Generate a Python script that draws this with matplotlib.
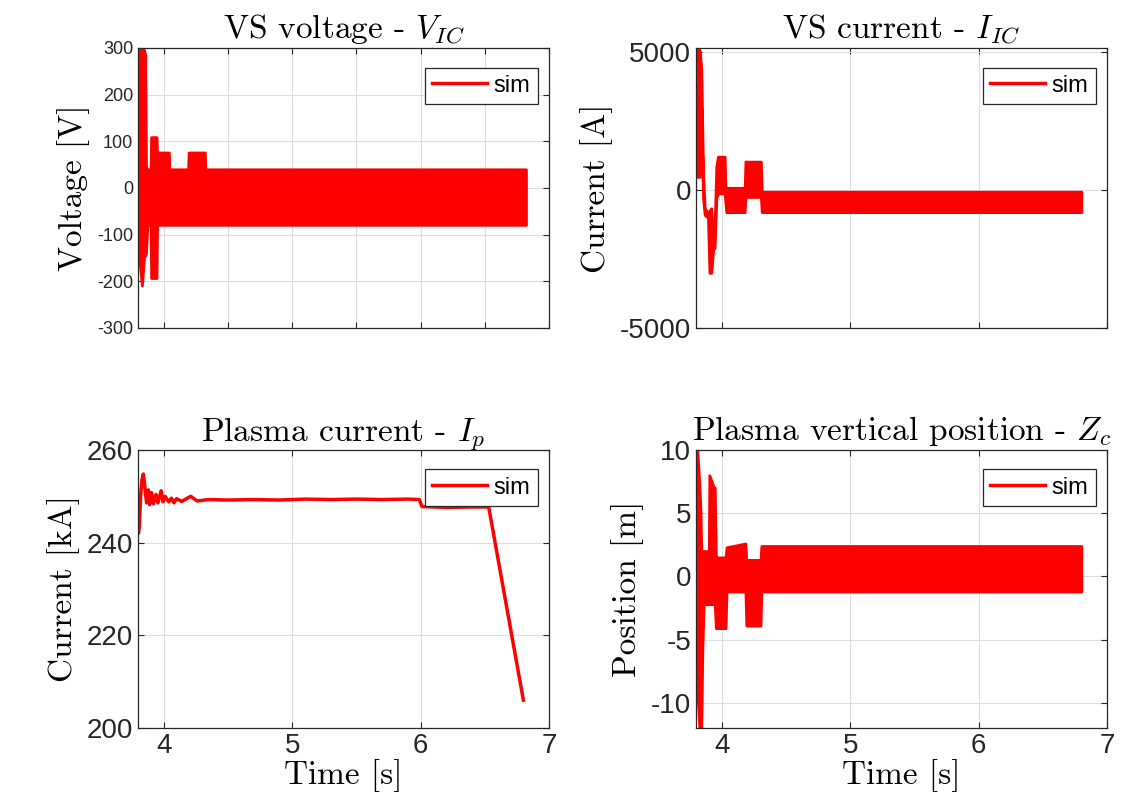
import matplotlib
matplotlib.use('Agg')
import matplotlib.pyplot as plt
from matplotlib.lines import Line2D

plt.rcParams['mathtext.fontset'] = 'cm'
plt.rcParams['axes.unicode_minus'] = False
plt.rcParams['font.family'] = ['Liberation Sans', 'DejaVu Sans']

# VS voltage envelope (band of the fast oscillation)
t_v = [3.800, 3.806, 3.830, 3.848, 3.856, 3.862, 3.872, 3.898, 3.902, 3.944,
       3.948, 4.040, 4.044, 4.190, 4.194, 4.320, 4.324, 6.820]
v_hi = [0, 300, 300, 295, 285, 45, 40, 40, 109, 109, 76, 76, 40, 40, 76, 76, 40, 40]
v_lo = [0, -140, -209, -145, -145, -140, -80, -80, -193, -193, -79, -79, -79,
        -79, -79, -79, -79, -79]

# VS current envelope
t_i = [3.800, 3.803, 3.808, 3.829, 3.841, 3.855, 3.868, 3.893, 3.905, 3.919,
       3.935, 3.945, 3.958, 3.971, 4.023, 4.030, 4.036, 4.179, 4.185, 4.192,
       4.305, 4.312, 6.800]
i_hi = [1930, 1930, 5130, 5070, 4400, 600, -660, -840, -750, -660, -1800, -1400,
        850, 1210, 1210, -100, 80, 80, 1030, 1030, 1030, -60, -60]
i_lo = [900, 900, 480, 480, 3000, -300, -900, -1000, -3000, -3000, -2100, -2100,
        -300, -120, -120, -500, -800, -800, -250, -250, -250, -800, -800]

# plasma current
t_ip = [3.800, 3.803, 3.810, 3.820, 3.830, 3.841, 3.850, 3.857, 3.867, 3.880,
        3.890, 3.905, 3.920, 3.940, 3.955, 3.980, 3.995, 4.010, 4.040, 4.060,
        4.080, 4.100, 4.140, 4.210, 4.260, 4.350, 4.500, 4.700, 4.900, 5.100,
        5.300, 5.500, 5.700, 5.900, 5.990, 6.010, 6.200, 6.400, 6.530, 6.800]
ip = [248.2, 242.0, 243.5, 250.0, 253.5, 254.8, 253.0, 250.8, 248.6, 251.4,
      248.2, 250.8, 248.4, 250.4, 248.6, 251.2, 248.8, 250.0, 248.8, 249.6,
      248.6, 249.5, 248.9, 250.0, 249.0, 249.3, 249.2, 249.3, 249.2, 249.4,
      249.3, 249.4, 249.3, 249.4, 249.3, 247.8, 247.6, 247.7, 247.7, 206.0]

# plasma vertical position envelope
t_z = [3.800, 3.806, 3.810, 3.826, 3.835, 3.841, 3.850, 3.860, 3.900, 3.904,
       3.940, 3.946, 3.955, 3.960, 4.030, 4.038, 4.185, 4.192, 4.302, 4.309, 6.800]
z_hi = [0.2, 10.1, 10.1, 7.3, 5.2, 2.1, 2.0, 2.0, 2.0, 8.0, 7.0, 7.0, 1.5, 1.5,
        1.5, 2.3, 2.6, 1.3, 1.3, 2.4, 2.4]
z_lo = [0.2, -3.0, -9.0, -12.0, -12.0, -12.0, -5.6, -2.2, -2.2, -2.2, -2.2,
        -2.2, -4.1, -4.1, -4.1, -1.2, -1.2, -3.9, -3.9, -1.2, -1.2]

red = '#ff0000'
dark = '#262626'
fig = plt.figure(figsize=(11.24, 7.97), dpi=100)

W = 0.3657
ax1 = fig.add_axes([0.1228, 0.5885, W, 0.3513])
ax2 = fig.add_axes([0.6192, 0.5885, W, 0.3513])
ax3 = fig.add_axes([0.1228, 0.0866, W, 0.3488])
ax4 = fig.add_axes([0.6192, 0.0866, W, 0.3488])

ax1.fill_between(t_v, v_lo, v_hi, color=red, lw=2)
ax2.fill_between(t_i, i_lo, i_hi, color=red, lw=2)
ax3.plot(t_ip, ip, color=red, lw=2.5)
ax4.fill_between(t_z, z_lo, z_hi, color=red, lw=2)

serif = 'cmr10'
tsize = 24

ax1.set_ylim(-300, 300)
ax1.set_yticks([-300, -200, -100, 0, 100, 200, 300])
ax1.set_xticks([4, 4.5, 5, 5.5, 6, 6.5, 7])
ax2.set_ylim(-5000, 5150)
ax2.set_yticks([-5000, 0, 5000])
ax2.set_xticks([4, 5, 6, 7])
ax3.set_ylim(200, 260)
ax3.set_yticks([200, 220, 240, 260])
ax3.set_xticks([4, 5, 6, 7])
ax4.set_ylim(-12, 10)
ax4.set_yticks([-10, -5, 0, 5, 10])
ax4.set_xticks([4, 5, 6, 7])

titles = ['VS voltage - $V_{IC}$', 'VS current - $I_{IC}$',
          'Plasma current - $I_p$', 'Plasma vertical position - $Z_c$']
ylabels = ['Voltage [V]', 'Current [A]', 'Current [kA]', 'Position [m]']

for k, ax in enumerate([ax1, ax2, ax3, ax4]):
    ax.set_xlim(3.8, 7)
    ax.grid(True, color='#dedede', lw=0.8)
    ax.set_axisbelow(True)
    for s in ax.spines.values():
        s.set_color(dark)
        s.set_linewidth(0.9)
    ax.tick_params(direction='in', top=True, right=True, length=4, width=0.8,
                   color=dark, labelcolor=dark, labelsize=20 if k else 13)
    ax.set_title(titles[k], fontsize=tsize, family=serif, pad=7)
    ax.set_ylabel(ylabels[k], fontsize=tsize, family=serif, labelpad=5)
    h = Line2D([], [], color=red, lw=2.5)
    leg = ax.legend([h], ['sim'], loc='upper right', bbox_to_anchor=(0.972, 0.93),
                    borderaxespad=0, fontsize=17, fancybox=False,
                    edgecolor=dark, framealpha=1, handlelength=2.3,
                    borderpad=0.3, handletextpad=0.3)
    leg.get_frame().set_linewidth(0.9)
    if k < 2:
        ax.tick_params(labelbottom=False)
    else:
        ax.set_xlabel('Time [s]', fontsize=tsize, family=serif, labelpad=0)

fig.savefig('out.png', dpi=100)
